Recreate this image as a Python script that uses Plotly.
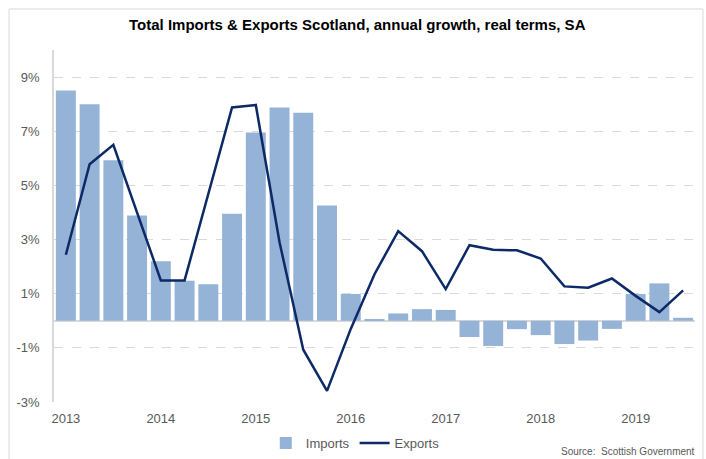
import plotly.graph_objects as go

quarters = [f"{y} Q{q}" for y in range(2013, 2020) for q in range(1, 5)][:27]
imports = [8.5, 8.0, 5.93, 3.89, 2.2, 1.48, 1.35, 3.95,
           6.95, 7.88, 7.68, 4.26, 0.99, 0.06, 0.27, 0.43,
           0.4, -0.6, -0.93, -0.31, -0.53, -0.86, -0.73, -0.3,
           0.99, 1.38, 0.11]
exports = [2.44, 5.78, 6.5, 4.0, 1.49, 1.49, 4.69, 7.88,
           7.97, 2.9, -1.07, -2.59, -0.3, 1.72, 3.31, 2.57,
           1.17, 2.79, 2.62, 2.6, 2.3, 1.27, 1.22, 1.56,
           0.92, 0.32, 1.12]
year_ticks = ["2013", "2014", "2015", "2016", "2017", "2018", "2019"]
y_ticks = [-3, -1, 1, 3, 5, 7, 9]

x = list(range(len(quarters)))
year_pos = [quarters.index(f"{y} Q1") for y in year_ticks]

FONT = "Liberation Sans, Arial, sans-serif"
GREY = "#595959"

fig = go.Figure()
fig.add_trace(go.Bar(x=x, y=imports, name="Imports", marker_color="#95B3D7",
                     marker_line_width=0, width=0.84, hovertext=quarters))
fig.add_trace(go.Scatter(x=x, y=exports, name="Exports", mode="lines",
                         line=dict(color="#0C2A66", width=2.5), hovertext=quarters))

fig.update_layout(
    width=706, height=459,
    margin=dict(l=54, r=11, t=50, b=57, autoexpand=False),
    paper_bgcolor="white", plot_bgcolor="white",
    font=dict(family=FONT, size=13, color=GREY),
    title=dict(text="<b>Total Imports & Exports Scotland, annual growth, real terms, SA</b>",
               x=0.506, xanchor="center", y=0.945, yanchor="middle",
               font=dict(family=FONT, size=15, color="#000000")),
    showlegend=True,
    legend=dict(orientation="h", x=0.47, xanchor="center",
                yref="container", y=1 - 443 / 459, yanchor="middle",
                font=dict(family=FONT, size=13, color=GREY), traceorder="normal",
                itemwidth=30, bgcolor="rgba(0,0,0,0)"),
    xaxis=dict(range=[-0.5, 26.5], tickmode="array", tickvals=year_pos, ticktext=year_ticks,
               showgrid=False, zeroline=False, showline=False, ticks="",
               ticklabelstandoff=7, tickfont=dict(size=13, color=GREY)),
    yaxis=dict(range=[-3, 10], tickmode="array", tickvals=y_ticks,
               ticktext=[f"{v}%" for v in y_ticks],
               showgrid=True, gridcolor="#D9D9D9", griddash="dash", gridwidth=1,
               zeroline=True, zerolinecolor="#D9D9D9", zerolinewidth=1.5,
               showline=True, linecolor="#D9D9D9", linewidth=1.5,
               ticks="", ticklabelstandoff=10, tickfont=dict(size=13, color=GREY)),
    bargap=0.16,
    shapes=[dict(type="rect", xref="paper", yref="paper",
                 x0=(9 - 54) / 641, x1=(703 - 54) / 641,
                 y0=(402 - 480) / 352, y1=(402 - 9) / 352,
                 line=dict(color="#D9D9D9", width=1), fillcolor="rgba(0,0,0,0)", layer="below")],
    annotations=[dict(text="Source:  Scottish Government", xref="paper", yref="paper",
                      x=(697 - 54) / 641, xanchor="right", y=(402 - 451) / 352, yanchor="middle",
                      showarrow=False, font=dict(family=FONT, size=10, color=GREY))],
)

fig.write_html("out.html", config={"displayModeBar": False},
               post_script="document.body.style.margin='0';")
